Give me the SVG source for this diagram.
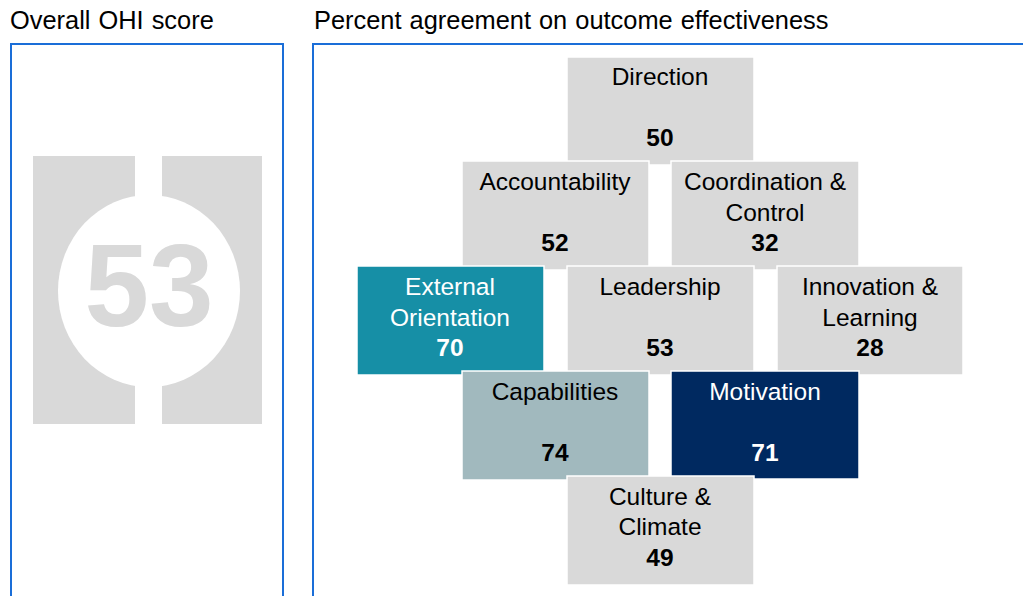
<svg xmlns="http://www.w3.org/2000/svg" width="1023" height="596" viewBox="0 0 1023 596">
<style>
.hdr{font-family:"Liberation Sans",Arial,sans-serif;font-size:25.4px;fill:#000;word-spacing:1px}
.panel{fill:none;stroke:#1A6ED8;stroke-width:2}
.tile{stroke:#fff;stroke-width:1.5}
.g{fill:#D9D9D9}
.teal{fill:#168FA6}
.cap{fill:#A1B9BE}
.navy{fill:#002960}
.lbl{font-family:"Liberation Sans",Arial,sans-serif;font-size:24.5px;text-anchor:middle;fill:#000}
.num{font-family:"Liberation Sans",Arial,sans-serif;font-size:24.5px;font-weight:bold;text-anchor:middle;fill:#000}
.w{fill:#fff}
</style>
<rect width="1023" height="596" fill="#fff"/>
<text class="hdr" x="10" y="29" word-spacing="3">Overall OHI score</text>
<text class="hdr" x="314" y="29">Percent agreement on outcome effectiveness</text>
<path class="panel" d="M11,600 V44 H283 V600"/>
<path class="panel" d="M313,600 V44 H1030"/>
<g id="overall">
<rect x="33" y="156" width="102" height="268" fill="#D9D9D9"/>
<rect x="162" y="156" width="100" height="268" fill="#D9D9D9"/>
<ellipse cx="149" cy="291" rx="91" ry="96" fill="#fff"/>
<text x="149" y="326" font-family="Liberation Sans, Arial, sans-serif" font-size="116" font-weight="bold" fill="#D9D9D9" text-anchor="middle">53</text>
</g>
<g id="direction"><rect class="tile g" x="567" y="57" width="187" height="108"/><text class="lbl" x="660" y="85">Direction</text><text class="num" x="660" y="146">50</text></g>
<g id="accountability"><rect class="tile g" x="462" y="161" width="187" height="109"/><text class="lbl" x="555" y="190">Accountability</text><text class="num" x="555" y="251">52</text></g>
<g id="coordination"><rect class="tile g" x="671" y="161" width="188" height="109"/><text class="lbl" x="765" y="190">Coordination &amp;</text><text class="lbl" x="765" y="221">Control</text><text class="num" x="765" y="251">32</text></g>
<g id="external"><rect class="tile teal" x="357" y="266" width="187" height="109"/><text class="lbl w" x="450" y="295">External</text><text class="lbl w" x="450" y="326">Orientation</text><text class="num w" x="450" y="356">70</text></g>
<g id="leadership"><rect class="tile g" x="567" y="266" width="187" height="109"/><text class="lbl" x="660" y="295">Leadership</text><text class="num" x="660" y="356">53</text></g>
<g id="innovation"><rect class="tile g" x="777" y="266" width="186" height="109"/><text class="lbl" x="870" y="295">Innovation &amp;</text><text class="lbl" x="870" y="326">Learning</text><text class="num" x="870" y="356">28</text></g>
<g id="capabilities"><rect class="tile cap" x="462" y="371" width="187" height="109"/><text class="lbl" x="555" y="400">Capabilities</text><text class="num" x="555" y="461">74</text></g>
<g id="motivation"><rect class="tile navy" x="671" y="371" width="188" height="108"/><text class="lbl w" x="765" y="400">Motivation</text><text class="num w" x="765" y="461">71</text></g>
<g id="culture"><rect class="tile g" x="567" y="476" width="187" height="109"/><text class="lbl" x="660" y="505">Culture &amp;</text><text class="lbl" x="660" y="535">Climate</text><text class="num" x="660" y="566">49</text></g>
<g id="connectors"></g>
</svg>
